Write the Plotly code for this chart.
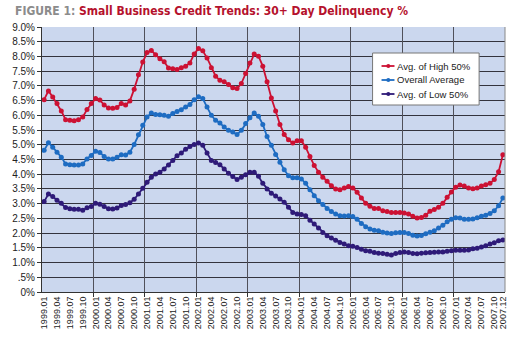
import plotly.graph_objects as go

YEARS = list(range(1999, 2008))
MONTHS = [f"{y}.{m:02d}" for y in YEARS for m in range(1, 13)]

HIGH = [6.53, 6.83, 6.62, 6.40, 6.15, 5.85, 5.83, 5.82, 5.85, 5.94, 6.20, 6.40,
        6.57, 6.52, 6.35, 6.25, 6.24, 6.27, 6.40, 6.35, 6.49, 6.89, 7.38, 7.81,
        8.13, 8.20, 8.06, 7.92, 7.82, 7.61, 7.58, 7.56, 7.62, 7.67, 7.78, 8.08,
        8.27, 8.19, 7.95, 7.62, 7.33, 7.19, 7.14, 7.05, 6.94, 6.91, 7.08, 7.42,
        7.78, 8.08, 8.01, 7.67, 7.14, 6.59, 6.15, 5.69, 5.35, 5.17, 5.06, 5.14,
        5.14, 4.92, 4.60, 4.30, 4.07, 3.90, 3.76, 3.61, 3.50, 3.47, 3.53, 3.58,
        3.53, 3.39, 3.19, 3.01, 2.91, 2.84, 2.84, 2.76, 2.73, 2.70, 2.70, 2.70,
        2.68, 2.65, 2.57, 2.51, 2.53, 2.61, 2.74, 2.80, 2.88, 3.01, 3.22, 3.40,
        3.56, 3.63, 3.60, 3.53, 3.51, 3.53, 3.60, 3.64, 3.69, 3.82, 4.08, 4.66]

OVERALL = [4.81, 5.07, 4.92, 4.75, 4.58, 4.35, 4.32, 4.31, 4.31, 4.35, 4.52, 4.64,
           4.78, 4.74, 4.60, 4.52, 4.52, 4.58, 4.66, 4.65, 4.75, 5.01, 5.34, 5.66,
           5.94, 6.08, 6.03, 6.02, 6.00, 5.97, 6.06, 6.13, 6.19, 6.28, 6.37, 6.53,
           6.63, 6.57, 6.28, 6.00, 5.83, 5.74, 5.60, 5.49, 5.43, 5.35, 5.49, 5.72,
           5.92, 6.08, 5.97, 5.69, 5.28, 4.98, 4.67, 4.41, 4.15, 3.95, 3.88, 3.88,
           3.84, 3.69, 3.47, 3.27, 3.10, 2.97, 2.84, 2.73, 2.65, 2.59, 2.58, 2.59,
           2.56, 2.47, 2.33, 2.22, 2.14, 2.10, 2.08, 2.03, 2.00, 1.99, 2.01, 2.02,
           2.02, 1.99, 1.93, 1.90, 1.92, 1.98, 2.03, 2.08, 2.17, 2.27, 2.39, 2.47,
           2.52, 2.51, 2.47, 2.47, 2.48, 2.52, 2.57, 2.61, 2.67, 2.76, 2.93, 3.19]

LOW = [3.07, 3.33, 3.24, 3.12, 3.01, 2.87, 2.83, 2.81, 2.81, 2.78, 2.86, 2.90,
       3.01, 2.98, 2.90, 2.83, 2.82, 2.85, 2.94, 2.97, 3.03, 3.15, 3.33, 3.52,
       3.73, 3.90, 4.01, 4.07, 4.18, 4.31, 4.47, 4.63, 4.72, 4.85, 4.94, 5.01,
       5.06, 4.98, 4.72, 4.47, 4.40, 4.32, 4.18, 4.03, 3.92, 3.82, 3.90, 3.98,
       4.07, 4.07, 3.93, 3.69, 3.50, 3.35, 3.26, 3.16, 3.05, 2.88, 2.70, 2.65,
       2.63, 2.59, 2.44, 2.31, 2.17, 2.02, 1.91, 1.83, 1.76, 1.68, 1.63, 1.57,
       1.55, 1.51, 1.45, 1.40, 1.38, 1.34, 1.32, 1.31, 1.28, 1.26, 1.31, 1.34,
       1.36, 1.34, 1.31, 1.30, 1.32, 1.33, 1.34, 1.35, 1.36, 1.36, 1.38, 1.40,
       1.42, 1.42, 1.42, 1.43, 1.47, 1.49, 1.53, 1.57, 1.63, 1.67, 1.74, 1.77]

SERIES_NAMES = ["Avg. of High 50%", "Overall Average", "Avg. of Low 50%"]
COLORS = ["#cc1133", "#1e6cc2", "#2e1a78"]

TICK_LABELS = [MONTHS[i] for i in range(0, len(MONTHS), 3)] + [MONTHS[-1]]
Y_TICKS = [0, 0.5, 1.0, 1.5, 2.0, 2.5, 3.0, 3.5, 4.0, 4.5, 5.0, 5.5, 6.0, 6.5, 7.0, 7.5, 8.0, 8.5, 9.0]
Y_LABELS = ["0%", ".5%", "1.0%", "1.5%", "2.0%", "2.5%", "3.0%", "3.5%", "4.0%", "4.5%",
            "5.0%", "5.5%", "6.0%", "6.5%", "7.0%", "7.5%", "8.0%", "8.5%", "9.0%"]

# layout geometry (pixels)
W, H = 522, 341
ML, MR, MT, MB = 40, 17, 27, 49
PW, PH = W - ML - MR, H - MT - MB


def px(x):
    return (x - ML) / PW


def py(y):
    return (H - MB - y) / PH


idx = list(range(len(MONTHS)))
fig = go.Figure()
for name, vals, col in zip(SERIES_NAMES, [HIGH, OVERALL, LOW], COLORS):
    fig.add_trace(go.Scatter(x=idx, y=vals, name=name, mode="lines+markers",
                             line=dict(color=col, width=1.8),
                             marker=dict(color=col, size=5), showlegend=False))
fig.add_trace(go.Scatter(x=[None], y=[None], xaxis="x2", showlegend=False, hoverinfo="skip"))

tickvals = [MONTHS.index(t) for t in TICK_LABELS]
year_bounds = [i - 0.5 for i in range(12, len(MONTHS), 12)]
rng = [-0.5, len(MONTHS) - 0.5]
font_family = "Liberation Sans, Arial, sans-serif"

# manual legend (box, sample lines, markers, labels)
shapes = [dict(type="line", xref="paper", yref="paper", x0=1, x1=1, y0=0, y1=1,
               line=dict(color="#888", width=1)),
          dict(type="rect", xref="paper", yref="paper", x0=px(372), x1=px(479),
               y0=py(105), y1=py(53), fillcolor="white", line=dict(color="#777", width=1),
               layer="above")]
annotations = []
for k, (name, col) in enumerate(zip(SERIES_NAMES, COLORS)):
    yc = 66 + 14 * k
    shapes.append(dict(type="line", xref="paper", yref="paper", x0=px(381), x1=px(394),
                       y0=py(yc), y1=py(yc), line=dict(color=col, width=1.8), layer="above"))
    shapes.append(dict(type="circle", xref="paper", yref="paper", x0=px(385.8), x1=px(389.8),
                       y0=py(yc + 2), y1=py(yc - 2), fillcolor=col, line=dict(color=col, width=0),
                       layer="above"))
    annotations.append(dict(text=name, xref="paper", yref="paper", x=px(395), y=py(yc),
                            xanchor="left", yanchor="middle", showarrow=False,
                            font=dict(size=9.5, color="#222")))

annotations.append(dict(
    text="<b><span style='color:#8c8c8c'>FIGURE 1:</span> Small Business Credit Trends: 30+ Day Delinquency %</b>",
    xref="paper", yref="paper", x=px(11), y=py(20), xanchor="left", yanchor="bottom",
    showarrow=False,
    font=dict(family="Liberation Sans Narrow, DejaVu Sans Condensed, Arial Narrow, sans-serif",
              size=12, color="#b5112c")))

fig.update_layout(
    width=W, height=H,
    margin=dict(l=ML, r=MR, t=MT, b=MB),
    paper_bgcolor="white", plot_bgcolor="#cbd7ee",
    font=dict(family=font_family, size=10, color="#222"),
    showlegend=False,
    xaxis=dict(range=rng, tickvals=tickvals, ticktext=TICK_LABELS, tickangle=-90,
               showgrid=False, zeroline=False, ticks="", tickfont=dict(size=9),
               showline=True, linecolor="#333", linewidth=1),
    xaxis2=dict(range=rng, overlaying="x", anchor="y", side="bottom",
                tickvals=year_bounds, showticklabels=False, showgrid=True,
                gridcolor="#50505a", gridwidth=1, ticks="outside", ticklen=4,
                tickcolor="#333", zeroline=False),
    yaxis=dict(range=[0, 9], tickvals=Y_TICKS, ticktext=Y_LABELS, showgrid=True,
               gridcolor="#33333d", gridwidth=1, zeroline=False, ticks="outside",
               ticklen=4, tickcolor="#333", showline=True, linecolor="#333",
               linewidth=1, mirror=False),
    shapes=shapes,
    annotations=annotations,
)

fig.write_html("out.html")
